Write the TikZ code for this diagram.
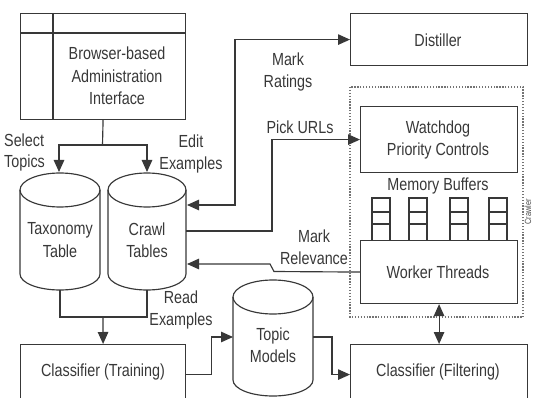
\documentclass[tikz,border=0pt]{standalone}
\usepackage{fontspec}
\setmainfont{Liberation Sans}[FakeStretch=0.82]
\usetikzlibrary{arrows.meta}
\tikzset{
  ln/.style={line width=1.15pt, draw=black!78},
  boxn/.style={ln, rectangle, inner sep=0pt, anchor=north west},
  lbl/.style={text=black!78, inner sep=0pt, align=center, font=\fontsize{17.5}{22.5}\selectfont},
  arr/.style={ln, -{Triangle[length=12pt,width=10.5pt]}},
  arrboth/.style={ln, {Triangle[length=12pt,width=10.5pt]}-{Triangle[length=12pt,width=10.5pt]}},
  dotbox/.style={line width=1.3pt, draw=black!55, dash pattern=on 1.3pt off 1.6pt},
}
\begin{document}
\begin{tikzpicture}[x=1pt,y=-1pt]
\useasboundingbox (0,0) rectangle (533,398);

% Browser-based Administration Interface
\node[boxn, minimum width=165pt, minimum height=106pt] (browser) at (20,13) {};
\draw[ln] (53,13) -- (53,119);
\draw[ln] (20,33) -- (185,33);
\node[lbl] (browsertxt) at (117,76) {Browser-based\\Administration\\Interface};

% Distiller
\node[boxn, minimum width=177pt, minimum height=52pt] (distiller) at (350,13) {};
\node[lbl] (distillertxt) at (438,40) {Distiller};

% Crawler (dotted)
\draw[dotbox] (350,87) rectangle (523,317);
\node[text=black!70, inner sep=0pt, rotate=90, font=\fontsize{9}{10}\selectfont] (crawlerlbl) at (528,212) {Crawler};

% Watchdog
\node[boxn, minimum width=157pt, minimum height=66pt] (watchdog) at (360,106) {};
\node[lbl] (watchdogtxt) at (438,140) {Watchdog\\Priority Controls};

\node[lbl] (membuf) at (438,186) {Memory Buffers};
\foreach \bx in {372,409,450,489}{
  \draw[ln] (\bx,240) -- (\bx,198) -- (\bx+18,198) -- (\bx+18,240);
  \draw[ln] (\bx,212) -- (\bx+18,212);
  \draw[ln] (\bx,224) -- (\bx+18,224);
}

% Worker threads
\node[boxn, minimum width=157pt, minimum height=63pt, fill=white] (worker) at (360,240) {};
\node[lbl] (workertxt) at (438,272) {Worker Threads};

% Classifier boxes
\node[boxn, minimum width=165pt, minimum height=60pt] (training) at (20,344) {};
\node[lbl] (trainingtxt) at (103,372) {Classifier (Training)};
\node[boxn, minimum width=177pt, minimum height=60pt] (filter) at (350,344) {};
\node[lbl] (filtertxt) at (438,372) {Classifier (Filtering)};

% Cylinders
\draw[ln, fill=white] (20,190) -- (20,274) arc[start angle=180, end angle=360, x radius=40pt, y radius=16pt] -- (100,190);
\draw[ln] (60,190) ellipse [x radius=40pt, y radius=17pt];
\node[lbl] (taxonomy) at (60,240) {Taxonomy\\Table};

\draw[ln, fill=white] (108,190) -- (108,274) arc[start angle=180, end angle=360, x radius=39pt, y radius=16pt] -- (186,190);
\draw[ln] (147,190) ellipse [x radius=39pt, y radius=17pt];
\node[lbl] (crawl) at (147,240) {Crawl\\Tables};

\draw[ln, fill=white] (233,297) -- (233,380) arc[start angle=180, end angle=360, x radius=40pt, y radius=16pt] -- (313,297);
\draw[ln] (273,297) ellipse [x radius=40pt, y radius=17pt];
\node[lbl] (topic) at (273,345) {Topic\\Models};

% connection coordinates
\coordinate (taxtop) at (59,172);
\coordinate (crtop) at (147,172);
\coordinate (taxbot) at (60,290);
\coordinate (crbot) at (147,290);
\coordinate (split) at (102.5,145);
\coordinate (join) at (103,317);
\coordinate (crR1) at (187,205);
\coordinate (crR2) at (186,231);
\coordinate (crR3) at (187,264);
\coordinate (topicL) at (233,337);
\coordinate (topicR) at (313,337);

% Connectors
\draw[ln] (browser.south) -- (split);
\draw[arr] (split) -| (taxtop);
\draw[arr] (split) -| (crtop);
\draw[ln] (taxbot) |- (join) -| (crbot);
\draw[arr] (join) -- (training.north);
\draw[arr] (training.east) -- ++(25,0) |- (topicL);
\draw[arr] (topicR) -- ++(19,0) |- (filter.west);
\draw[arrboth] (worker.south) -- (filter.north);
\draw[arrboth] (distiller.west) -| (235,205) -- (crR1);
\draw[arr] (crR2) -- (272,231) |- (watchdog.west);
\draw[arr] (worker.west) -- (274,271.5) -- (270,264) -- (crR3);

% Labels
\node[lbl, anchor=west] (selecttop) at (4,140) {Select};
\node[lbl, anchor=west] (selectbot) at (4,163) {Topics};
\node[lbl] (edit) at (191,154) {Edit\\Examples};
\node[lbl] (read) at (181,310) {Read\\Examples};
\node[lbl] (markr) at (288,72) {Mark\\Ratings};
\node[lbl] (pick) at (300,127) {Pick URLs};
\node[lbl] (markrel) at (314,247) {Mark\\Relevance};
\end{tikzpicture}
\end{document}
